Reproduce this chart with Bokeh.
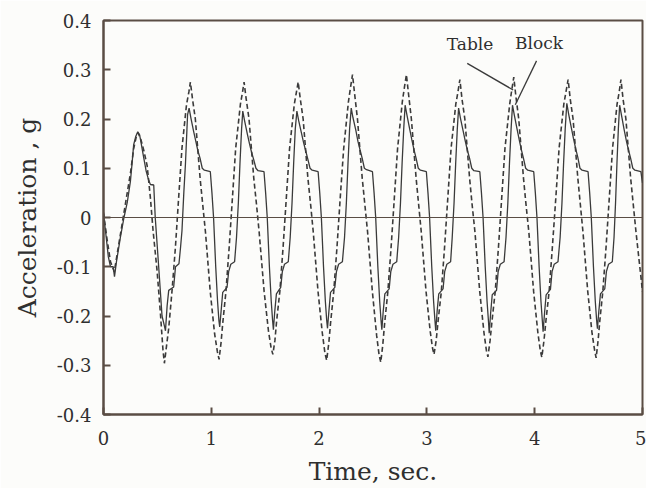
from bokeh.plotting import figure
from bokeh.models import FixedTicker, Span, CustomJSTickFormatter, ColumnDataSource
from bokeh.core.properties import value
from bokeh.embed import file_html
from bokeh.resources import INLINE

# ---- data ----
table_t = [
    0.00, 0.03, 0.065, 0.10, 0.13, 0.16, 0.19, 0.22, 0.25, 0.28, 0.305, 0.32, 0.345, 0.375, 0.405, 0.435, 0.46,
    0.497, 0.528, 0.552, 0.565, 0.585, 0.605, 0.636, 0.667, 0.697, 0.728, 0.77, 0.792, 0.806,
    0.826, 0.852, 0.874, 0.896, 0.921, 0.946, 0.99, 1.03, 1.056, 1.072, 1.09, 1.106, 1.136, 1.166, 1.196, 1.226, 1.27, 1.29, 1.304,
    1.324, 1.35, 1.372, 1.394, 1.42, 1.444, 1.49, 1.53, 1.555, 1.571, 1.59, 1.606, 1.636, 1.666, 1.696, 1.726, 1.77, 1.79, 1.806,
    1.826, 1.852, 1.874, 1.896, 1.922, 1.946, 1.99, 2.03, 2.054, 2.07, 2.09, 2.106, 2.136, 2.166, 2.196, 2.228, 2.272, 2.292, 2.31,
    2.33, 2.356, 2.378, 2.40, 2.425, 2.45, 2.494, 2.534, 2.556, 2.572, 2.59, 2.608, 2.638, 2.668, 2.698, 2.728, 2.772, 2.792, 2.81,
    2.83, 2.856, 2.878, 2.90, 2.924, 2.948, 2.992, 3.03, 3.052, 3.066, 3.086, 3.104, 3.134, 3.164, 3.194, 3.224, 3.268, 3.288, 3.306,
    3.326, 3.352, 3.374, 3.396, 3.42, 3.446, 3.49, 3.53, 3.552, 3.566, 3.586, 3.604, 3.634, 3.664, 3.694, 3.724, 3.768, 3.788, 3.806,
    3.826, 3.852, 3.874, 3.896, 3.92, 3.946, 3.99, 4.03, 4.052, 4.066, 4.086, 4.104, 4.134, 4.164, 4.196, 4.226, 4.27, 4.29, 4.31,
    4.33, 4.356, 4.378, 4.40, 4.424, 4.448, 4.492, 4.532, 4.556, 4.57, 4.588, 4.604, 4.632, 4.662, 4.692, 4.722, 4.764, 4.784, 4.80,
    4.82, 4.846, 4.868, 4.89, 4.915, 4.94, 4.97, 5.0,
]
table_g = [
    0.010, -0.04, -0.09, -0.11, -0.07, -0.03, 0.01, 0.05, 0.09, 0.14, 0.165, 0.172, 0.16, 0.135, 0.105, 0.04, -0.027,
    -0.108, -0.195, -0.27, -0.296, -0.26, -0.225, -0.148, -0.061, 0.04, 0.141, 0.229, 0.255, 0.275,
    0.24, 0.20, 0.14, 0.08, 0.025, -0.03, -0.15, -0.235, -0.272, -0.288, -0.255, -0.215, -0.15, -0.06, 0.04, 0.14, 0.23, 0.255, 0.275,
    0.24, 0.20, 0.14, 0.08, 0.025, -0.03, -0.15, -0.23, -0.265, -0.278, -0.25, -0.21, -0.15, -0.06, 0.04, 0.14, 0.23, 0.255, 0.275,
    0.24, 0.20, 0.14, 0.08, 0.025, -0.03, -0.15, -0.235, -0.275, -0.29, -0.255, -0.215, -0.15, -0.06, 0.04, 0.14, 0.235, 0.265, 0.29,
    0.25, 0.20, 0.14, 0.08, 0.025, -0.03, -0.15, -0.24, -0.278, -0.294, -0.26, -0.215, -0.15, -0.06, 0.04, 0.14, 0.235, 0.265, 0.29,
    0.25, 0.20, 0.14, 0.08, 0.025, -0.03, -0.15, -0.23, -0.265, -0.278, -0.25, -0.21, -0.15, -0.06, 0.04, 0.14, 0.23, 0.255, 0.28,
    0.24, 0.20, 0.14, 0.08, 0.025, -0.03, -0.15, -0.235, -0.27, -0.283, -0.25, -0.21, -0.15, -0.06, 0.04, 0.14, 0.23, 0.26, 0.285,
    0.245, 0.20, 0.14, 0.08, 0.025, -0.03, -0.15, -0.235, -0.27, -0.284, -0.25, -0.21, -0.15, -0.06, 0.04, 0.14, 0.23, 0.255, 0.28,
    0.24, 0.20, 0.14, 0.08, 0.025, -0.03, -0.15, -0.235, -0.27, -0.285, -0.25, -0.21, -0.15, -0.06, 0.04, 0.14, 0.23, 0.255, 0.28,
    0.24, 0.20, 0.14, 0.08, 0.025, -0.03, -0.09, -0.15,
]

block_t = [
    0.00, 0.02, 0.045, 0.065, 0.09, 0.102, 0.12, 0.157, 0.19, 0.22, 0.25, 0.265, 0.28, 0.30, 0.318, 0.335, 0.35, 0.37,
    0.395, 0.42, 0.435, 0.466, 0.48, 0.51, 0.543, 0.565, 0.575, 0.59, 0.605, 0.651, 0.668, 0.70, 0.715, 0.728, 0.745,
    0.76, 0.78, 0.794,
    0.811, 0.836, 0.856, 0.876, 0.896, 0.916, 0.936, 0.991, 1.006, 1.021, 1.041, 1.058, 1.071, 1.078, 1.091, 1.106, 1.146, 1.161, 1.181, 1.216, 1.234, 1.251, 1.266, 1.281, 1.292,
    1.309, 1.334, 1.354, 1.374, 1.394, 1.414, 1.434, 1.489, 1.504, 1.519, 1.539, 1.556, 1.569, 1.576, 1.589, 1.604, 1.644, 1.659, 1.679, 1.714, 1.732, 1.749, 1.764, 1.779, 1.794,
    1.811, 1.836, 1.856, 1.876, 1.896, 1.916, 1.936, 1.991, 2.006, 2.021, 2.041, 2.058, 2.071, 2.078, 2.091, 2.106, 2.146, 2.161, 2.181, 2.216, 2.236, 2.253, 2.268, 2.283, 2.298,
    2.315, 2.34, 2.36, 2.38, 2.40, 2.42, 2.44, 2.495, 2.51, 2.525, 2.545, 2.562, 2.575, 2.582, 2.595, 2.61, 2.65, 2.665, 2.685, 2.72, 2.738, 2.755, 2.77, 2.785, 2.798,
    2.815, 2.84, 2.86, 2.88, 2.90, 2.92, 2.94, 2.995, 3.01, 3.025, 3.045, 3.062, 3.075, 3.082, 3.095, 3.11, 3.15, 3.165, 3.185, 3.22, 3.235, 3.252, 3.267, 3.282, 3.294,
    3.311, 3.336, 3.356, 3.376, 3.396, 3.416, 3.436, 3.491, 3.506, 3.521, 3.541, 3.558, 3.571, 3.578, 3.591, 3.606, 3.646, 3.661, 3.681, 3.716, 3.734, 3.751, 3.766, 3.781, 3.794,
    3.811, 3.836, 3.856, 3.876, 3.896, 3.916, 3.936, 3.991, 4.006, 4.021, 4.041, 4.058, 4.071, 4.078, 4.091, 4.106, 4.146, 4.161, 4.181, 4.216, 4.236, 4.253, 4.268, 4.283, 4.298,
    4.315, 4.34, 4.36, 4.38, 4.40, 4.42, 4.44, 4.495, 4.51, 4.525, 4.545, 4.562, 4.575, 4.582, 4.595, 4.61, 4.65, 4.665, 4.685, 4.72, 4.736, 4.75, 4.763, 4.776, 4.788,
    4.805, 4.83, 4.85, 4.87, 4.89, 4.91, 4.93, 4.985, 5.0,
]
block_g = [
    0.007, -0.03, -0.08, -0.10, -0.10, -0.12, -0.09, -0.04, 0.0, 0.03, 0.074, 0.11, 0.148, 0.165, 0.174, 0.168, 0.15, 0.125,
    0.095, 0.075, 0.067, 0.066, 0.0, -0.094, -0.20, -0.22, -0.23, -0.18, -0.148, -0.141, -0.10, -0.094, -0.06, -0.027, 0.05,
    0.108, 0.209, 0.222,
    0.202, 0.175, 0.155, 0.135, 0.12, 0.10, 0.096, 0.093, 0.05, 0.0, -0.10, -0.17, -0.21, -0.222, -0.19, -0.152, -0.142, -0.11, -0.095, -0.09, -0.04, 0.03, 0.11, 0.18, 0.216,
    0.196, 0.17, 0.15, 0.132, 0.117, 0.10, 0.095, 0.093, 0.05, 0.0, -0.10, -0.17, -0.21, -0.228, -0.19, -0.155, -0.142, -0.11, -0.095, -0.09, -0.04, 0.03, 0.11, 0.18, 0.216,
    0.196, 0.172, 0.152, 0.135, 0.118, 0.10, 0.096, 0.093, 0.05, 0.0, -0.10, -0.17, -0.21, -0.225, -0.19, -0.152, -0.142, -0.11, -0.095, -0.09, -0.04, 0.03, 0.11, 0.18, 0.222,
    0.202, 0.178, 0.155, 0.137, 0.12, 0.10, 0.097, 0.093, 0.05, 0.0, -0.10, -0.17, -0.21, -0.228, -0.19, -0.155, -0.145, -0.11, -0.095, -0.09, -0.04, 0.03, 0.11, 0.18, 0.228,
    0.208, 0.18, 0.158, 0.138, 0.12, 0.10, 0.096, 0.093, 0.05, 0.0, -0.10, -0.17, -0.21, -0.23, -0.19, -0.155, -0.145, -0.11, -0.095, -0.09, -0.04, 0.03, 0.11, 0.18, 0.222,
    0.202, 0.176, 0.155, 0.136, 0.12, 0.10, 0.095, 0.093, 0.05, 0.0, -0.10, -0.17, -0.21, -0.235, -0.195, -0.157, -0.148, -0.11, -0.095, -0.09, -0.04, 0.03, 0.11, 0.18, 0.228,
    0.208, 0.18, 0.158, 0.138, 0.12, 0.10, 0.096, 0.093, 0.05, 0.0, -0.10, -0.17, -0.21, -0.232, -0.195, -0.157, -0.146, -0.11, -0.095, -0.09, -0.04, 0.03, 0.11, 0.18, 0.232,
    0.21, 0.182, 0.16, 0.14, 0.122, 0.10, 0.096, 0.093, 0.05, 0.0, -0.10, -0.17, -0.21, -0.226, -0.19, -0.155, -0.145, -0.11, -0.095, -0.09, -0.04, 0.03, 0.11, 0.18, 0.228,
    0.208, 0.178, 0.156, 0.137, 0.12, 0.10, 0.096, 0.093, 0.07,
]

x_ticks = [0, 1, 2, 3, 4, 5]
y_ticks = [-0.4, -0.3, -0.2, -0.1, 0, 0.1, 0.2, 0.3, 0.4]

label_names = ["Table", "Block"]
label_t = [3.40, 4.04]
label_g = [0.352, 0.354]
leader_t0 = [3.374, 4.017]
leader_g0 = [0.313, 0.318]
leader_t1 = [3.80, 3.82]
leader_g1 = [0.259, 0.229]

# ---- styling ----
FONT = "DejaVu Serif"
INK = "#3a3a3a"
FRAME = "#5a4d44"
TEXT = "#2f2f2f"
PAPER = "#fcfcfa"

p = figure(width=646, height=488, x_range=(0, 5), y_range=(-0.4, 0.4),
           output_backend="svg", toolbar_location=None,
           min_border_left=103, min_border_right=4, min_border_top=20, min_border_bottom=71,
           background_fill_color=PAPER, border_fill_color=PAPER)

p.xgrid.visible = False
p.ygrid.visible = False
p.outline_line_color = FRAME
p.outline_line_width = 2

p.line(table_t, table_g, line_color=INK, line_width=1.6, line_dash="5 3")
p.line(block_t, block_g, line_color=INK, line_width=1.3)

p.add_layout(Span(location=0, dimension="width", line_color=FRAME, line_width=1.2))

src = ColumnDataSource(dict(x=label_t, y=label_g, t=label_names))
p.text(x="x", y="y", text="t", source=src, text_font=value(FONT), text_font_size="17px",
       text_align="center", text_baseline="middle", text_color=TEXT)
p.segment(x0=leader_t0, y0=leader_g0, x1=leader_t1, y1=leader_g1, line_color=INK, line_width=1.3)

for ax in (p.xaxis[0], p.yaxis[0]):
    ax.axis_line_color = FRAME
    ax.axis_line_width = 2
    ax.major_tick_line_color = FRAME
    ax.major_tick_line_width = 2
    ax.major_tick_in = 7
    ax.major_tick_out = 0
    ax.minor_tick_line_color = None
    ax.major_label_text_font = FONT
    ax.major_label_text_font_size = "18px"
    ax.major_label_text_color = TEXT
    ax.axis_label_text_font = FONT
    ax.axis_label_text_font_size = "25px"
    ax.axis_label_text_font_style = "normal"
    ax.axis_label_text_color = TEXT

p.xaxis.ticker = FixedTicker(ticks=x_ticks)
p.yaxis.ticker = FixedTicker(ticks=y_ticks)
p.yaxis.formatter = CustomJSTickFormatter(code="return Math.abs(tick) < 1e-9 ? '0' : tick.toFixed(1);")
p.xaxis.formatter = CustomJSTickFormatter(code="return tick.toFixed(0);")
p.xaxis.axis_label = "Time, sec."
p.yaxis.axis_label = "Acceleration , g"
p.xaxis.major_label_standoff = 16
p.yaxis.major_label_standoff = 12
p.xaxis.axis_label_standoff = 9
p.yaxis.axis_label_standoff = 12

open("out.html", "w").write(file_html(p, INLINE))
